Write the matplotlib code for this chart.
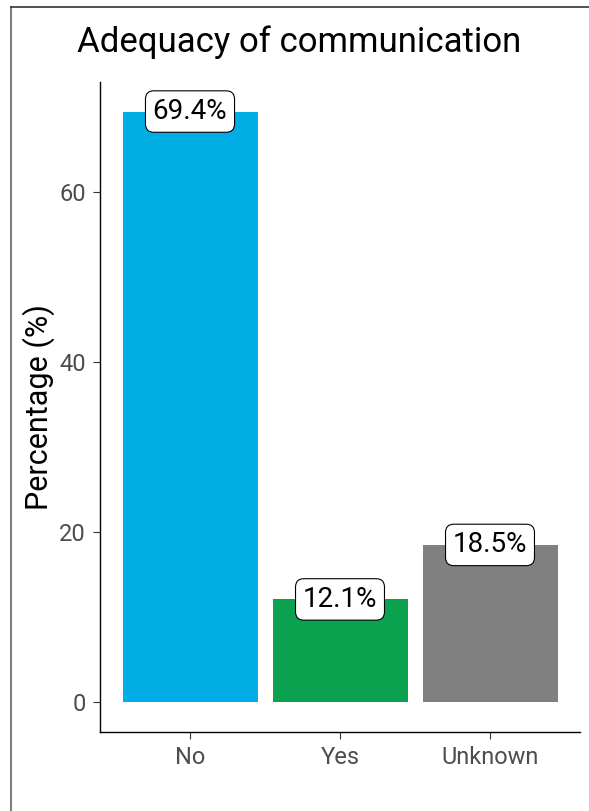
import matplotlib.pyplot as plt
from matplotlib.lines import Line2D

# Data
categories = ["No", "Yes", "Unknown"]
percentages = [69.4, 12.1, 18.5]
bar_colors = ["#00AEE5", "#0AA14F", "#808080"]
y_ticks = [0, 20, 40, 60]

plt.rcParams['font.family'] = ['Roboto', 'DejaVu Sans']

fig = plt.figure(figsize=(5.89, 8.11), dpi=100)
ax = fig.add_axes([100 / 589, 1 - 732 / 811, 480 / 589, 650 / 811])

x = list(range(1, len(categories) + 1))
ax.bar(x, percentages, width=0.9, color=bar_colors)

for xi, val in zip(x, percentages):
    ax.text(xi, val, f"{val}%", ha='center', va='center', fontsize=20,
            color='black',
            bbox=dict(boxstyle='round,pad=0.26,rounding_size=0.3',
                      fc='white', ec='black', lw=0.8))

ax.set_xlim(0.4, 3.6)
ax.set_ylim(-0.05 * max(percentages), max(percentages) * 1.05)
ax.set_xticks(x)
ax.set_xticklabels(categories)
ax.set_yticks(y_ticks)

for side in ['top', 'right']:
    ax.spines[side].set_visible(False)
for side in ['left', 'bottom']:
    ax.spines[side].set_linewidth(1.0)
    ax.spines[side].set_color('black')

ax.tick_params(axis='both', labelsize=17, labelcolor='#4D4D4D', color='#333333',
               length=5, width=0.8, pad=5)
ax.set_ylabel("Percentage (%)", fontsize=22, color='black', labelpad=3)

fig.text(299 / 589, 1 - 52 / 811, "Adequacy of communication", fontsize=25,
         ha='center', va='baseline', color='black')

# outer border lines (cropped figure frame)
fig.add_artist(Line2D([11 / 589, 11 / 589], [0, 1 - 7 / 811], color='#808080',
                      lw=1.5, transform=fig.transFigure))
fig.add_artist(Line2D([11 / 589, 1], [1 - 7 / 811, 1 - 7 / 811], color='#333333',
                      lw=1.2, transform=fig.transFigure))

fig.savefig("out.png", dpi=100)
